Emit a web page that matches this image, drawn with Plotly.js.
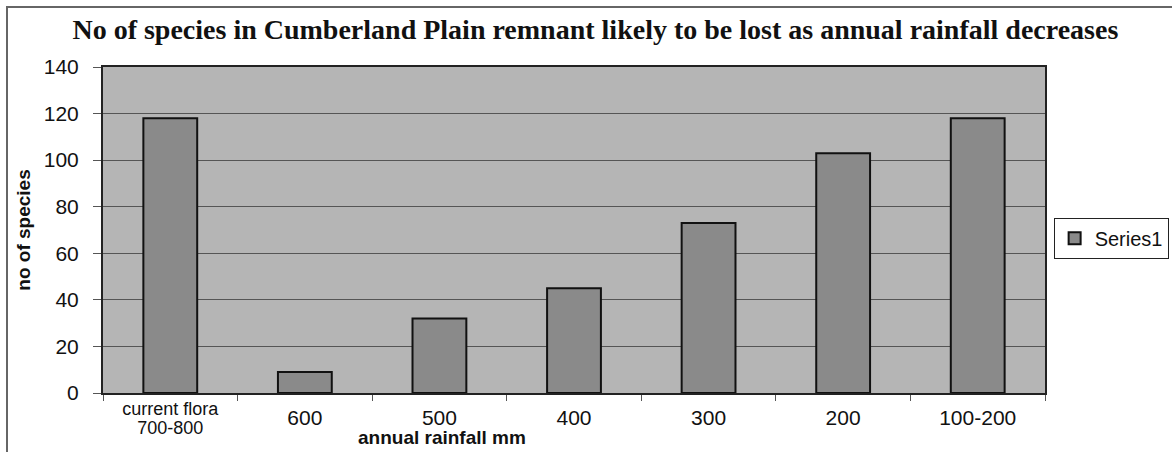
<!DOCTYPE html>
<html>
<head>
<meta charset="utf-8">
<script src="https://cdn.plot.ly/plotly-3.0.1.min.js"></script>
<style>
body{margin:0;background:#fff;}
#wrap{position:relative;width:1172px;height:452px;overflow:hidden;}
#chart{width:1172px;height:452px;}
#frame{position:absolute;left:6px;top:6px;width:1180px;height:460px;border:2px solid #666;pointer-events:none;}
</style>
</head>
<body>
<div id="wrap"><div id="chart"></div><div id="frame"></div></div>
<script>
var categories = ["current flora 700-800", "600", "500", "400", "300", "200", "100-200"];
var tickLabels = ["<span style=\"font-size:18px\">current flora</span><br><br><span style=\"font-size:18px\">700-800</span>",
                  "&nbsp;<br><span style=\"font-size:21px\">600</span>",
                  "&nbsp;<br><span style=\"font-size:21px\">500</span>",
                  "&nbsp;<br><span style=\"font-size:21px\">400</span>",
                  "&nbsp;<br><span style=\"font-size:21px\">300</span>",
                  "&nbsp;<br><span style=\"font-size:21px\">200</span>",
                  "&nbsp;<br><span style=\"font-size:21px\">100-200</span>"];
var speciesLost = [118, 9, 32, 45, 73, 103, 118];
var seriesName = "Series1";

var trace = {
  type: "bar",
  x: categories,
  y: speciesLost,
  name: seriesName,
  width: 0.4,
  marker: {color: "#8a8a8a", line: {color: "#111", width: 2}},
  showlegend: true
};

var layout = {
  width: 1172,
  height: 452,
  paper_bgcolor: "#ffffff",
  plot_bgcolor: "#b5b5b5",
  margin: {l: 103, r: 127, t: 67, b: 59},
  title: {
    text: "<b>No of species in Cumberland Plain remnant likely to be lost as annual rainfall decreases</b>",
    font: {family: "Liberation Serif, Times New Roman, serif", size: 28, color: "#111"},
    x: 0.508, xanchor: "center", y: 0.935, yanchor: "middle"
  },
  font: {family: "Liberation Sans, Arial, sans-serif", color: "#111"},
  xaxis: {
    type: "category",
    tickvals: categories,
    ticktext: tickLabels,
    tickfont: {size: 7, color: "#111"},
    ticklabelstandoff: 12,
    tickson: "boundaries",
    ticks: "outside",
    ticklen: 6,
    tickcolor: "#555",
    showline: true,
    linecolor: "#222",
    linewidth: 2,
    mirror: true,
    showgrid: false,
    range: [-0.5, 6.5]
  },
  yaxis: {
    range: [0, 140],
    dtick: 20,
    tickfont: {size: 21, color: "#111"},
    ticks: "outside",
    ticklen: 8,
    tickcolor: "#555",
    ticklabelstandoff: 10,
    showline: true,
    linecolor: "#222",
    linewidth: 2,
    mirror: true,
    gridcolor: "#555",
    gridwidth: 1,
    zeroline: false,
    title: {text: "<b>no of species</b>", font: {size: 19, color: "#111"}, standoff: 8}
  },
  legend: {
    xref: "container",
    x: 0.899, xanchor: "left",
    y: 0.475, yanchor: "middle",
    bgcolor: "#ffffff",
    bordercolor: "#222",
    borderwidth: 1,
    font: {size: 20, color: "#111"},
    itemwidth: 30
  },
  annotations: [{
    text: "<b>annual rainfall mm</b>",
    xref: "paper", yref: "paper",
    x: 0.36, y: -0.172,
    xanchor: "center", yanchor: "bottom",
    showarrow: false,
    borderpad: 0,
    font: {size: 19, color: "#111"}
  }]
};

Plotly.newPlot("chart", [trace], layout, {displayModeBar: false, staticPlot: true});
</script>
</body>
</html>
